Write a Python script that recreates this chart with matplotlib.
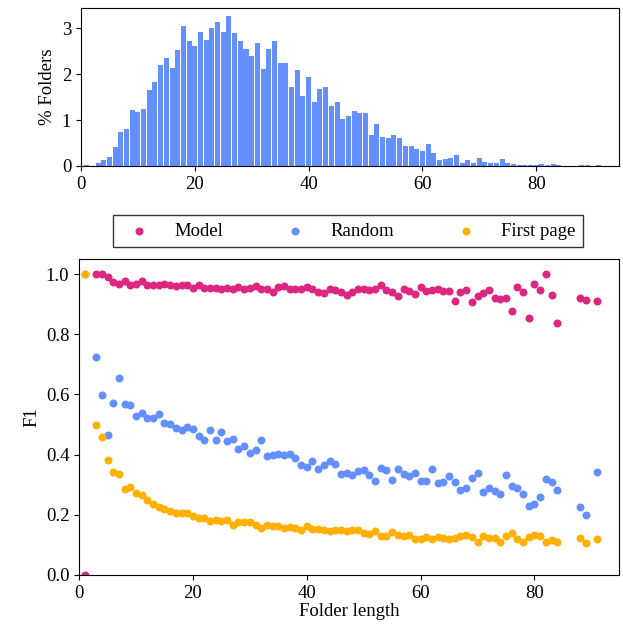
import numpy as np
import matplotlib.pyplot as plt

plt.rcParams['font.family'] = ['Liberation Serif', 'DejaVu Serif']
plt.rcParams['font.size'] = 13.5

# histogram: share of folders by folder length (%)
hist_len = list(range(1, 92))
hist_pct = [0.02, 0.0, 0.07, 0.14, 0.19, 0.41, 0.75, 0.80, 1.23, 1.17,
            1.25, 1.66, 1.84, 2.21, 2.35, 2.13, 2.52, 3.06, 2.72, 2.61,
            2.91, 2.74, 3.00, 3.13, 2.91, 3.28, 2.89, 2.72, 2.56, 2.39,
            2.69, 2.12, 2.56, 2.73, 2.25, 2.25, 1.73, 2.10, 1.53, 1.95,
            1.40, 1.68, 1.73, 1.31, 1.40, 1.03, 1.10, 1.20, 1.16, 1.16,
            0.68, 0.92, 0.64, 0.60, 0.68, 0.60, 0.44, 0.44, 0.38, 0.33,
            0.49, 0.29, 0.12, 0.16, 0.18, 0.25, 0.07, 0.14, 0.07, 0.18,
            0.09, 0.07, 0.07, 0.16, 0.07, 0.05, 0.03, 0.015, 0.03, 0.015,
            0.05, 0.03, 0.05, 0.03, 0.0, 0.0, 0.0, 0.03, 0.03, 0.0, 0.03]

# F1 per folder length (lengths 2, 85-87 and 90 have no folders)
f1_len = [1] + list(range(3, 85)) + [88, 89, 91]
f1_model = [0.0, 1.0, 1.0, 0.989, 0.973, 0.966, 0.978, 0.964, 0.967, 0.978,
            0.963, 0.962, 0.962, 0.968, 0.962, 0.959, 0.964, 0.964, 0.953, 0.963,
            0.954, 0.953, 0.953, 0.952, 0.953, 0.950, 0.958, 0.952, 0.953, 0.960,
            0.950, 0.950, 0.939, 0.957, 0.961, 0.951, 0.950, 0.950, 0.956, 0.950,
            0.942, 0.938, 0.951, 0.946, 0.940, 0.929, 0.941, 0.951, 0.950, 0.947,
            0.950, 0.964, 0.946, 0.941, 0.927, 0.950, 0.944, 0.934, 0.956, 0.945,
            0.947, 0.951, 0.944, 0.944, 0.912, 0.939, 0.947, 0.906, 0.926, 0.937,
            0.946, 0.921, 0.918, 0.920, 0.878, 0.956, 0.941, 0.855, 0.966, 0.946,
            1.0, 0.930, 0.839, 0.919, 0.913, 0.909]
f1_random = [1.0, 0.724, 0.597, 0.464, 0.570, 0.654, 0.567, 0.565, 0.527, 0.538,
             0.523, 0.521, 0.534, 0.504, 0.502, 0.490, 0.483, 0.493, 0.484, 0.461,
             0.448, 0.481, 0.450, 0.475, 0.444, 0.451, 0.420, 0.429, 0.405, 0.414,
             0.450, 0.394, 0.398, 0.401, 0.399, 0.401, 0.389, 0.364, 0.360, 0.380,
             0.352, 0.367, 0.378, 0.370, 0.335, 0.339, 0.333, 0.345, 0.350, 0.332,
             0.313, 0.357, 0.348, 0.317, 0.352, 0.335, 0.330, 0.339, 0.314, 0.313,
             0.353, 0.307, 0.309, 0.328, 0.308, 0.281, 0.289, 0.322, 0.338, 0.275,
             0.289, 0.280, 0.269, 0.331, 0.296, 0.289, 0.270, 0.229, 0.237, 0.260,
             0.320, 0.310, 0.281, 0.225, 0.201, 0.342]
f1_first = [1.0, 0.500, 0.458, 0.383, 0.343, 0.336, 0.287, 0.291, 0.272, 0.267,
            0.250, 0.235, 0.226, 0.219, 0.212, 0.207, 0.207, 0.205, 0.196, 0.190,
            0.189, 0.180, 0.184, 0.179, 0.182, 0.167, 0.175, 0.177, 0.177, 0.165,
            0.156, 0.165, 0.164, 0.162, 0.155, 0.159, 0.155, 0.151, 0.164, 0.154,
            0.154, 0.150, 0.147, 0.149, 0.150, 0.145, 0.150, 0.151, 0.139, 0.137,
            0.147, 0.128, 0.130, 0.142, 0.134, 0.130, 0.132, 0.121, 0.120, 0.125,
            0.119, 0.127, 0.124, 0.118, 0.124, 0.128, 0.132, 0.127, 0.109, 0.130,
            0.122, 0.122, 0.111, 0.128, 0.139, 0.118, 0.109, 0.126, 0.134, 0.130,
            0.111, 0.116, 0.109, 0.124, 0.106, 0.119]

blue = '#648FFF'
magenta = '#DC267F'
gold = '#FFB000'

fig = plt.figure(figsize=(6.23, 6.35), dpi=100)

# top: distribution of folder lengths
ax1 = fig.add_axes([0.130, 0.7386, 0.864, 0.2488])
ax1.bar(hist_len, hist_pct, width=0.88, color=blue)
ax1.set_xlim(0, 94.6)
ax1.set_ylabel('% Folders')
ax1.set_xticks([0, 20, 40, 60, 80])
ax1.set_yticks([0, 1, 2, 3])

# bottom: F1 per folder length
ax2 = fig.add_axes([0.127, 0.0945, 0.867, 0.4976])
ax2.scatter(f1_len, f1_model, s=33, color=magenta, linewidths=0, label='Model')
ax2.scatter(f1_len, f1_random, s=33, color=blue, linewidths=0, label='Random')
ax2.scatter(f1_len, f1_first, s=33, color=gold, linewidths=0, label='First page')
ax2.set_xlim(0, 94.9)
ax2.set_ylim(0, 1.05)
ax2.set_yticks(np.arange(0, 1.01, 0.2))
ax2.yaxis.set_major_formatter(plt.FormatStrFormatter('%.1f'))
ax2.set_xticks([0, 20, 40, 60, 80])
ax2.set_xlabel('Folder length', labelpad=1)
ax2.set_ylabel('F1')

leg = fig.legend(loc='center', bbox_to_anchor=(0.5586, 0.636), ncol=3,
                 frameon=True, fancybox=False, edgecolor='black',
                 columnspacing=2.8, handletextpad=0.9, borderpad=0.4)
leg.get_frame().set_linewidth(1.0)

fig.savefig('out.png', dpi=100)
